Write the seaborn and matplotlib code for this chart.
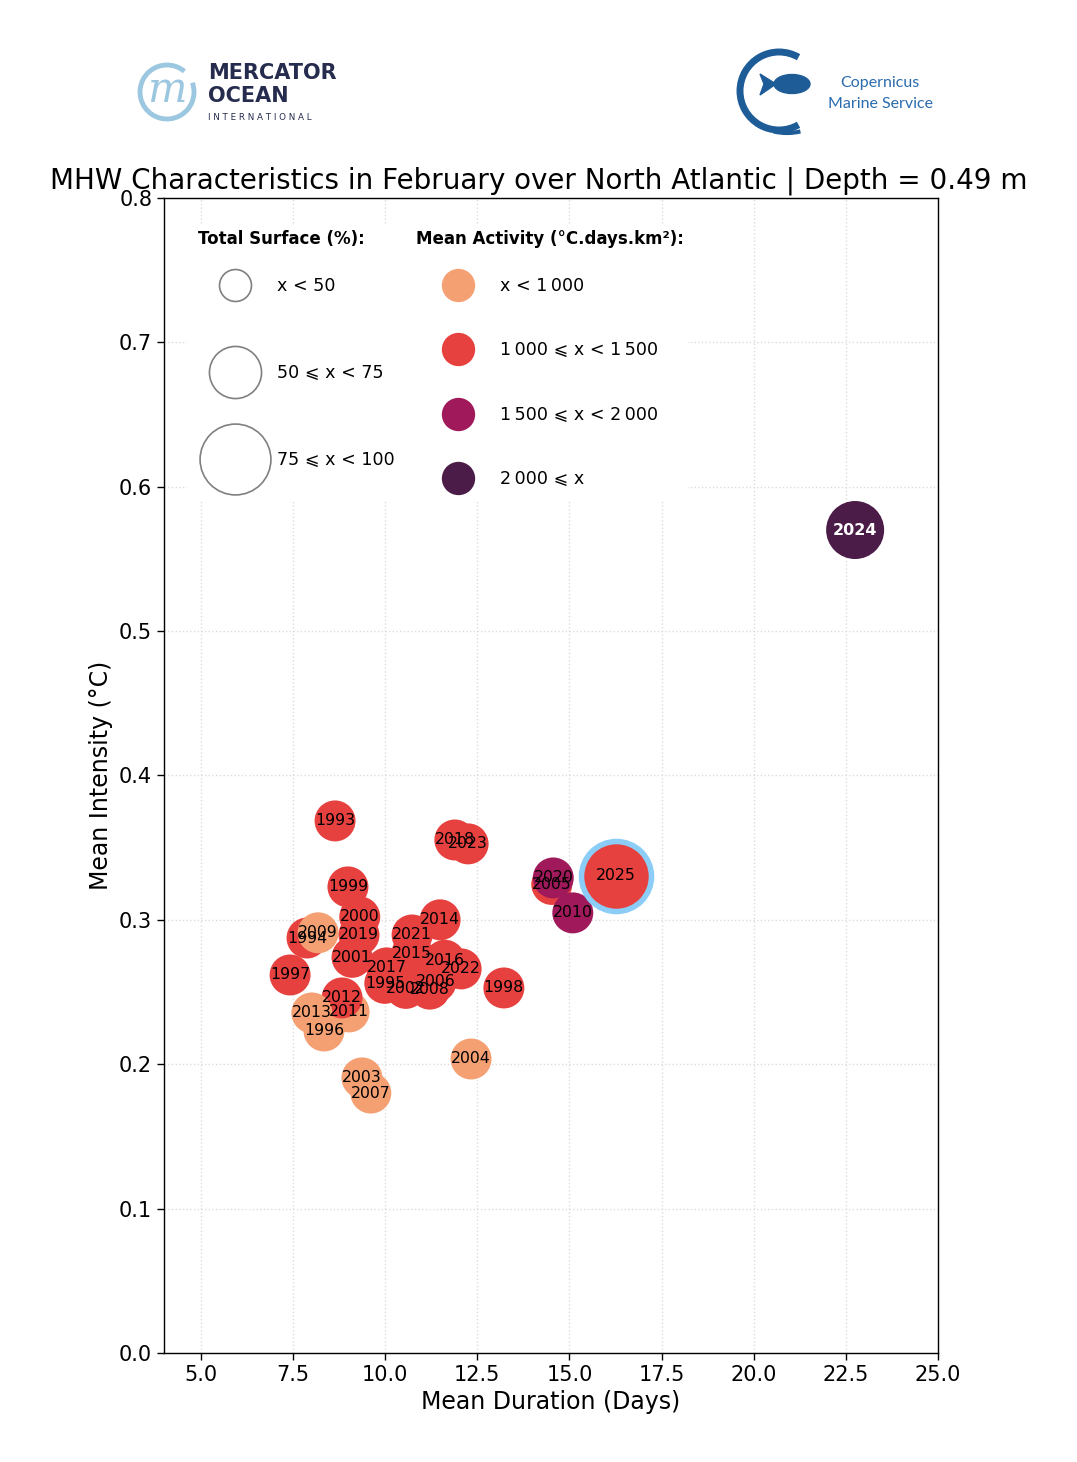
import numpy as np
import pandas as pd
import matplotlib
matplotlib.use('Agg')
import matplotlib.pyplot as plt
import seaborn as sns
from matplotlib.lines import Line2D
from matplotlib.patches import Arc, Ellipse, Polygon, Rectangle

# dados (fevereiro, Atlantico Norte)
anos = [1993, 1994, 1995, 1996, 1997, 1998, 1999, 2000, 2001, 2002, 2003,
        2004, 2005, 2006, 2007, 2008, 2009, 2010, 2011, 2012, 2013, 2014,
        2015, 2016, 2017, 2018, 2019, 2020, 2021, 2022, 2023, 2024, 2025]
duracao = [8.64, 7.88, 9.99, 8.34, 7.42, 13.22, 8.99, 9.31, 9.10, 10.56, 9.37,
           12.33, 14.52, 11.38, 9.61, 11.21, 8.18, 15.09, 9.02, 8.83, 8.01, 11.49,
           10.73, 11.62, 10.04, 11.89, 9.29, 14.56, 10.73, 12.06, 12.25, 22.75, 16.26]
intensidade = [0.3685, 0.2874, 0.256, 0.223, 0.2618, 0.2528, 0.3228, 0.302, 0.274,
               0.2525, 0.1905, 0.2036, 0.3245, 0.257, 0.180, 0.252, 0.291, 0.3048,
               0.2362, 0.2459, 0.2355, 0.300, 0.277, 0.272, 0.2667, 0.3553, 0.2895,
               0.329, 0.2895, 0.266, 0.3526, 0.570, 0.3304]
atividade = ['1000-1500', '1000-1500', '1000-1500', '<1000', '1000-1500', '1000-1500',
             '1000-1500', '1000-1500', '1000-1500', '1000-1500', '<1000', '<1000',
             '1000-1500', '1000-1500', '<1000', '1000-1500', '<1000', '1500-2000',
             '<1000', '1000-1500', '<1000', '1000-1500', '1000-1500', '1000-1500',
             '1000-1500', '1000-1500', '1000-1500', '1500-2000', '1000-1500',
             '1000-1500', '1000-1500', '>2000', '1000-1500']
superficie = ['<50'] * 31 + ['50-75', '75-100']

cores = {'<1000': '#F5A073', '1000-1500': '#E6413F',
         '1500-2000': '#A01A5B', '>2000': '#4B1C48'}
tamanhos = {'<50': 870, '50-75': 1745, '75-100': 2540}

df = pd.DataFrame({'Ano': anos, 'Duracao': duracao, 'Intensidade': intensidade,
                   'Atividade': atividade, 'Superficie': superficie})

sns.set_style('white')
plt.rcParams['font.family'] = ['DejaVu Sans']
plt.rcParams['text.color'] = 'black'
plt.rcParams['axes.labelcolor'] = 'black'
plt.rcParams['xtick.color'] = 'black'
plt.rcParams['ytick.color'] = 'black'

fig = plt.figure(figsize=(10.77, 14.62), dpi=100)
ax = fig.add_axes([0.1523, 0.0746, 0.7187, 0.79])

sns.scatterplot(data=df, x='Duracao', y='Intensidade', hue='Atividade',
                palette=cores, size='Superficie', sizes=tamanhos,
                linewidth=0, alpha=1, legend=False, ax=ax, zorder=3)

# destaque do ultimo ano
ult = df[df['Ano'] == anos[-1]]
ax.scatter(ult['Duracao'], ult['Intensidade'], s=tamanhos[superficie[-1]],
           c=cores[atividade[-1]], edgecolors='#8BCDF7', linewidths=4, zorder=4)

for _, r in df.iterrows():
    if r['Ano'] == 2024:
        ax.text(r['Duracao'], r['Intensidade'], str(r['Ano']), ha='center', va='center',
                fontsize=11.5, color='white', fontweight='bold', zorder=6)
    else:
        ax.text(r['Duracao'], r['Intensidade'], str(r['Ano']), ha='center', va='center',
                fontsize=11.3, color='black', zorder=6)

ax.set_xlim(4, 25)
ax.set_ylim(0, 0.8)
ax.set_xticks(np.arange(5, 25.1, 2.5))
ax.set_yticks(np.arange(0, 0.81, 0.1))
ax.xaxis.set_major_formatter(matplotlib.ticker.FormatStrFormatter('%.1f'))
ax.yaxis.set_major_formatter(matplotlib.ticker.FormatStrFormatter('%.1f'))
ax.tick_params(labelsize=15, direction='out', length=5, width=1, left=True, bottom=True)
ax.grid(True, linestyle=':', color='#dcdcdc', linewidth=1)
ax.set_axisbelow(True)
for s in ax.spines.values():
    s.set_color('black')
    s.set_linewidth(1)
ax.set_xlabel('Mean Duration (Days)', fontsize=17)
ax.set_ylabel('Mean Intensity (°C)', fontsize=17)
ax.set_title('MHW Characteristics in February over North Atlantic | Depth = 0.49 m',
             fontsize=20, pad=6.6, x=0.4839)

# fundo branco das legendas
ax.add_patch(Rectangle((0.0297, 0.7385), 0.647, 0.238, transform=ax.transAxes,
                       facecolor='white', edgecolor='none', zorder=2))

ax.text(0.0439, 0.9645, 'Total Surface (%):', transform=ax.transAxes, fontsize=12,
        fontweight='bold', va='center', ha='left', zorder=7)
ax.text(0.3256, 0.9645, 'Mean Activity (°C.days.km²):', transform=ax.transAxes,
        fontsize=12, fontweight='bold', va='center', ha='left', zorder=7)

sp = '\u2009'
rot_sup = ['x < 50', '50 ⩽ x < 75', '75 ⩽ x < 100']
rot_ativ = ['x < 1' + sp + '000', '1' + sp + '000 ⩽ x < 1' + sp + '500',
            '1' + sp + '500 ⩽ x < 2' + sp + '000', '2' + sp + '000 ⩽ x']

h1 = [Line2D([], [], marker='o', linestyle='', markersize=m, markerfacecolor='white',
             markeredgecolor='#808080', markeredgewidth=1.2) for m in [23, 37.5, 51]]
leg1 = ax.legend(h1, rot_sup, loc='upper left', bbox_to_anchor=(0.0685, 0.9316),
                 frameon=False, fontsize=12.6, labelspacing=3.95, handletextpad=1.45,
                 borderpad=0, borderaxespad=0)
ax.add_artist(leg1)
leg1.set_zorder(7)

h2 = [Line2D([], [], marker='o', linestyle='', markersize=24, markerfacecolor=cores[k],
             markeredgecolor='none') for k in cores]
leg2 = ax.legend(h2, rot_ativ, loc='upper left', bbox_to_anchor=(0.3566, 0.9316),
                 frameon=False, fontsize=12.6, labelspacing=2.65, handletextpad=1.45,
                 borderpad=0, borderaxespad=0)
leg2.set_zorder(7)

# logos (desenho simples)
lx = fig.add_axes([0, 0, 1, 1], zorder=-1)
lx.set_xlim(0, 1077)
lx.set_ylim(1462, 0)
lx.axis('off')
lx.add_patch(Arc((167, 92), 54, 54, theta1=-20, theta2=310, color='#9CC7E1', lw=3.5))
lx.text(167, 90, 'm', fontsize=30, color='#9CC7E1', ha='center', va='center',
        fontstyle='italic', family='DejaVu Serif')
lx.text(208, 73, 'MERCATOR', fontsize=15, fontweight='bold', color='#262C4D', va='center')
lx.text(208, 96, 'OCEAN', fontsize=15, fontweight='bold', color='#262C4D', va='center')
lx.text(208, 117, 'I N T E R N A T I O N A L', fontsize=6.3, color='#262C4D', va='center')

lx.add_patch(Arc((779, 91), 78, 78, theta1=60, theta2=300, color='#1E5C98', lw=5))
lx.add_patch(Ellipse((792, 84), 36, 19, color='#1E5C98'))
lx.add_patch(Polygon([[776, 84], [760, 74], [764, 84], [760, 95]], closed=True, color='#1E5C98'))
lx.add_patch(Arc((787, 118), 60, 30, theta1=45, theta2=135, color='#1E5C98', lw=3))
lx.text(880, 83, 'Copernicus', fontsize=11.5, color='#2A6BAE', ha='center', va='center',
        family='Lato')
lx.text(880, 104, 'Marine Service', fontsize=11.5, color='#2A6BAE', ha='center', va='center',
        family='Lato')

fig.savefig('out.png', dpi=100, facecolor='white')
